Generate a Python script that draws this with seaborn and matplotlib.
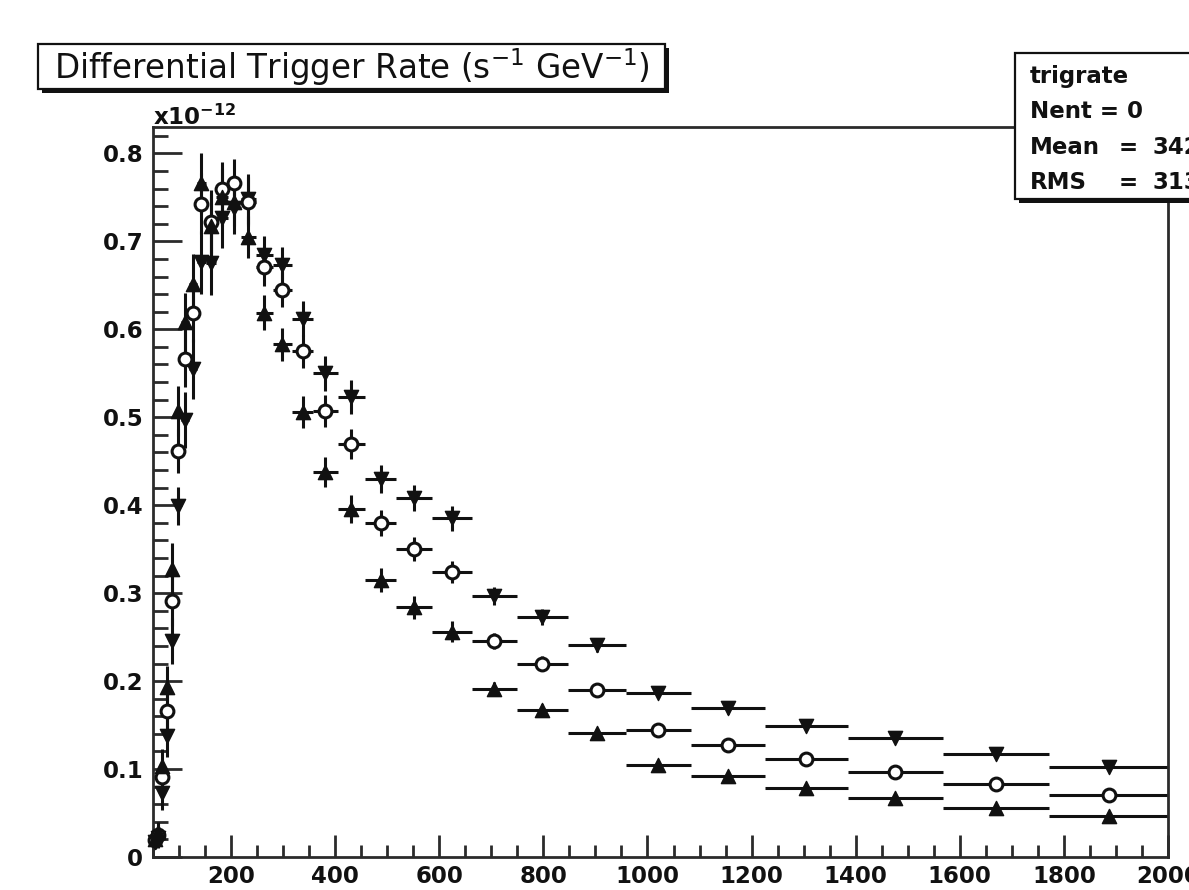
import numpy as np
import pandas as pd
import matplotlib
matplotlib.use("Agg")
import matplotlib.pyplot as plt
from matplotlib.patches import Rectangle
from matplotlib.ticker import MultipleLocator, FuncFormatter
import seaborn as sns

# Energy bin edges in GeV (30 logarithmic bins from 50 GeV to 2 TeV)
bin_edges = [50.0, 56.5, 63.9, 72.3, 81.8, 92.5, 104.6, 118.3, 133.8, 151.3,
             171.1, 193.5, 218.8, 247.5, 279.9, 316.5, 358.0, 404.8, 457.8,
             517.7, 585.5, 662.2, 748.9, 846.9, 957.8, 1083.0, 1225.0, 1385.0,
             1567.0, 1772.0, 2000.0]

# Differential trigger rates, in units of 1e-12 s^-1 GeV^-1
rate_down = [0.017, 0.022, 0.073, 0.138, 0.246, 0.399, 0.497, 0.555, 0.676, 0.675,
             0.726, 0.738, 0.748, 0.684, 0.673, 0.612, 0.550, 0.523, 0.430, 0.408,
             0.385, 0.297, 0.273, 0.241, 0.187, 0.169, 0.149, 0.135, 0.117, 0.102]
rate_open = [0.019, 0.025, 0.091, 0.166, 0.291, 0.462, 0.566, 0.619, 0.743, 0.722,
             0.760, 0.766, 0.745, 0.671, 0.645, 0.575, 0.507, 0.470, 0.380, 0.350,
             0.324, 0.246, 0.220, 0.190, 0.144, 0.127, 0.111, 0.097, 0.083, 0.071]
rate_up = [0.021, 0.028, 0.103, 0.193, 0.327, 0.507, 0.608, 0.652, 0.766, 0.718,
           0.750, 0.745, 0.705, 0.619, 0.583, 0.506, 0.438, 0.396, 0.315, 0.284,
           0.256, 0.191, 0.167, 0.141, 0.105, 0.092, 0.078, 0.067, 0.056, 0.047]

# Statistical uncertainties, same units
err_down = [0.008, 0.012, 0.020, 0.024, 0.026, 0.022, 0.032, 0.034, 0.036, 0.036,
            0.034, 0.030, 0.028, 0.022, 0.021, 0.020, 0.020, 0.019, 0.016, 0.015,
            0.014, 0.010, 0.009, 0.008, 0.006, 0.006, 0.005, 0.005, 0.004, 0.004]
err_open = [0.008, 0.012, 0.020, 0.024, 0.028, 0.025, 0.032, 0.034, 0.035, 0.036,
            0.030, 0.028, 0.028, 0.022, 0.020, 0.019, 0.018, 0.017, 0.015, 0.014,
            0.013, 0.009, 0.008, 0.007, 0.006, 0.005, 0.005, 0.004, 0.004, 0.004]
err_up = [0.008, 0.012, 0.020, 0.024, 0.030, 0.028, 0.033, 0.034, 0.035, 0.036,
          0.032, 0.028, 0.024, 0.020, 0.019, 0.018, 0.017, 0.016, 0.014, 0.013,
          0.012, 0.008, 0.007, 0.006, 0.005, 0.005, 0.004, 0.004, 0.003, 0.003]

y_ticks = [0.0, 0.1, 0.2, 0.3, 0.4, 0.5, 0.6, 0.7, 0.8]
x_ticks = [200, 400, 600, 800, 1000, 1200, 1400, 1600, 1800, 2000]

stats_name = "trigrate"
stats_nent = 0
stats_mean = "342.1"
stats_rms = "313.4"

edges = np.asarray(bin_edges)
lo, hi = edges[:-1], edges[1:]
centres = 0.5 * (lo + hi)

frames = []
for key, rate, err in (("down", rate_down, err_down),
                       ("open", rate_open, err_open),
                       ("up", rate_up, err_up)):
    frames.append(pd.DataFrame({"energy": centres, "lo": lo, "hi": hi,
                                "rate": rate, "err": err, "series": key}))
df = pd.concat(frames, ignore_index=True)

sns.set_theme(style="white")
plt.rcParams["font.family"] = ["DejaVu Sans"]
plt.rcParams["font.weight"] = "bold"
plt.rcParams["mathtext.default"] = "regular"

W, H = 1189, 890
fig = plt.figure(figsize=(W / 100, H / 100), dpi=100)
fig.patch.set_facecolor("white")


def fx(px):
    return px / W


def fy(py):
    return 1 - py / H


ax = fig.add_axes([fx(153), fy(857), fx(1168) - fx(153), fy(127) - fy(857)])
ax.set_facecolor("white")

ink = "#111111"
marker_style = {
    "down": dict(marker="v", color=ink, edgecolor=ink, s=105, linewidth=1.0),
    "open": dict(marker="o", color="white", edgecolor=ink, s=85, linewidth=2.2),
    "up": dict(marker="^", color=ink, edgecolor=ink, s=105, linewidth=1.0),
}

for key in ("down", "open", "up"):
    g = df[df["series"] == key]
    ax.errorbar(g["energy"], g["rate"],
                xerr=[g["energy"] - g["lo"], g["hi"] - g["energy"]],
                yerr=g["err"], fmt="none", ecolor=ink, elinewidth=2.2,
                capsize=0, zorder=2)
for key in ("down", "open", "up"):
    g = df[df["series"] == key]
    sns.scatterplot(data=g, x="energy", y="rate", ax=ax, legend=False,
                    zorder=3, clip_on=False, **marker_style[key])

ax.set_xlim(50, 2000)
ax.set_ylim(0, 0.83)
ax.set_xticks(x_ticks)
ax.set_yticks(y_ticks)
ax.xaxis.set_minor_locator(MultipleLocator(50))
ax.yaxis.set_minor_locator(MultipleLocator(0.02))
ax.yaxis.set_major_formatter(FuncFormatter(lambda v, p: "0" if abs(v) < 1e-9 else f"{v:.1f}"))
ax.xaxis.set_major_formatter(FuncFormatter(lambda v, p: f"{v:.0f}"))
ax.set_xlabel("")
ax.set_ylabel("")

axis_col = "#2b2b2b"
for side in ("left", "right", "top", "bottom"):
    ax.spines[side].set_visible(True)
    ax.spines[side].set_color(axis_col)
    ax.spines[side].set_linewidth(2.0)

ax.tick_params(axis="y", which="major", direction="in", length=21, width=2.0,
               color=axis_col, labelsize=16.5, pad=7, left=True, right=False)
ax.tick_params(axis="y", which="minor", direction="in", length=11, width=2.0,
               color=axis_col, left=True, right=False)
ax.tick_params(axis="x", which="major", direction="in", length=16, width=2.0,
               color=axis_col, labelsize=16.5, pad=6, bottom=True, top=False)
ax.tick_params(axis="x", which="minor", direction="in", length=8.5, width=2.0,
               color=axis_col, bottom=True, top=False)
for t in ax.get_xticklabels() + ax.get_yticklabels():
    t.set_fontweight("bold")
    t.set_color(ink)

# exponent multiplier above the y axis
fig.text(fx(153), fy(125), r"x10$^{-12}$", fontsize=16.5, fontweight="bold",
         color=ink, ha="left", va="baseline")


def boxed(x0, y0, x1, y1, shadow=4):
    fig.add_artist(Rectangle((fx(x0 + shadow), fy(y1 + shadow)),
                             fx(x1 - x0), fy(y0) - fy(y1),
                             transform=fig.transFigure, facecolor=ink,
                             edgecolor="none", zorder=10))
    fig.add_artist(Rectangle((fx(x0), fy(y1)), fx(x1 - x0), fy(y0) - fy(y1),
                             transform=fig.transFigure, facecolor="white",
                             edgecolor=ink, linewidth=1.6, zorder=11))


# histogram title box
boxed(38, 44, 665, 89)
fig.text(fx(352), fy(67), r"Differential Trigger Rate (s$^{-1}$ GeV$^{-1}$)",
         fontsize=23.5, fontweight="normal", color=ink, ha="center",
         va="center", zorder=12)

# statistics box
boxed(1015, 53, 1215, 199)
sx = fx(1030)
fig.text(sx, fy(83), stats_name, fontsize=16.5, fontweight="bold",
         color=ink, ha="left", va="baseline", zorder=12)
fig.text(sx, fy(118), f"Nent = {stats_nent}", fontsize=16.5,
         fontweight="bold", color=ink, ha="left", va="baseline", zorder=12)
for yb, lab, val in ((154, "Mean", stats_mean), (189, "RMS", stats_rms)):
    fig.text(sx, fy(yb), lab, fontsize=16.5, fontweight="bold", color=ink,
             ha="left", va="baseline", zorder=12)
    fig.text(fx(1128), fy(yb), "=", fontsize=16.5, fontweight="bold",
             color=ink, ha="center", va="baseline", zorder=12)
    fig.text(fx(1152), fy(yb), val, fontsize=16.5, fontweight="bold",
             color=ink, ha="left", va="baseline", zorder=12)

fig.savefig("out.png", dpi=100, facecolor="white")
